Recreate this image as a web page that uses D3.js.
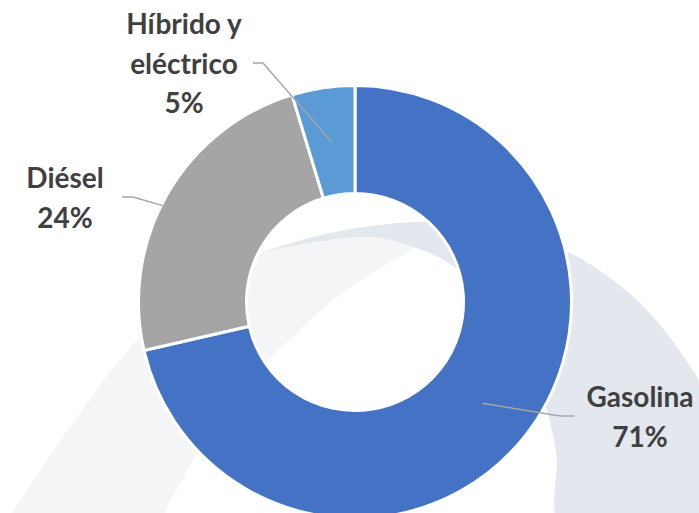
<!DOCTYPE html>
<html>
<head>
<meta charset="utf-8">
<script src="https://cdn.jsdelivr.net/npm/d3@7"></script>
<style>
    html, body { margin: 0; padding: 0; background: #ffffff; }
    svg { display: block; }
</style>
</head>
<body>
<svg id="chart"></svg>
<script>
"use strict";

// Slice categories (label lines) and shares in percent
const categories = ["Gasolina", "Diésel", "Híbrido y eléctrico"];
const labelLines = [["Gasolina"], ["Diésel"], ["Híbrido y", "eléctrico"]];
const shares = [71.4, 23.9, 4.7];
const shareLabels = ["71%", "24%", "5%"];
const sliceColors = ["#4472C4", "#A5A5A5", "#5B9BD5"];

// Label placement: centre x, first baseline, leader start and elbow
const labelX = [640, 65, 184];
const labelY = [407, 188, 34];
const leaderStart = [[574, 416], [122, 197], [253, 63]];
const leaderElbow = [[560, 416], [133, 197], [263, 63]];
const leaderToEdge = [false, true, false];

const width = 699, height = 513;
const cx = 355, cy = 302;
const outerR = 216.5, innerR = 108.5;

const svg = d3.select("#chart")
    .attr("width", width)
    .attr("height", height);

// background swooshes (decoration only)
const lightSwoosh = [[10, 516], [75, 420], [140, 337], [200, 287], [263, 252], [320, 239],
    [373, 235], [412, 247], [380, 268], [333, 300], [300, 330], [268, 360], [230, 405],
    [197, 453], [163, 516]];
const darkSwoosh = [[263, 252], [330, 233], [420, 222], [500, 230], [568, 252], [640, 303],
    [697, 377], [740, 460], [760, 530], [563, 530], [556, 450], [540, 390], [510, 330],
    [470, 280], [440, 258], [410, 246], [373, 237], [315, 242], [263, 252]];

const swooshLine = d3.line().curve(d3.curveCatmullRom.alpha(0.5));
svg.append("path")
    .attr("d", swooshLine(lightSwoosh) + "Z")
    .attr("fill", "#F4F5F7");
svg.append("path")
    .attr("d", swooshLine(darkSwoosh) + "Z")
    .attr("fill", "#E3E7EE");

const pie = d3.pie().sort(null).value((d) => d);
const arcs = pie(shares);
const arc = d3.arc().innerRadius(innerR).outerRadius(outerR);

const g = svg.append("g")
    .attr("transform", `translate(${cx},${cy})`);

g.selectAll("path.slice")
    .data(arcs)
    .enter()
    .append("path")
    .attr("class", "slice")
    .attr("d", arc)
    .attr("fill", (d, i) => sliceColors[i])
    .attr("stroke", "#ffffff")
    .attr("stroke-width", 3);

// leader end: centroid, or where the line towards it meets the outer edge
function leaderEnd(i) {
    const c = arc.centroid(arcs[i]);
    const cAbs = [c[0] + cx, c[1] + cy];
    if (!leaderToEdge[i]) return cAbs;
    const p = leaderElbow[i];
    const r = 215;
    let lo = 0, hi = 1;
    for (let k = 0; k < 40; k++) {
        const t = (lo + hi) / 2;
        const x = p[0] + (cAbs[0] - p[0]) * t - cx;
        const y = p[1] + (cAbs[1] - p[1]) * t - cy;
        if (Math.hypot(x, y) > r) lo = t; else hi = t;
    }
    return [p[0] + (cAbs[0] - p[0]) * lo, p[1] + (cAbs[1] - p[1]) * lo];
}

svg.selectAll("polyline.leader")
    .data(arcs)
    .enter()
    .append("polyline")
    .attr("class", "leader")
    .attr("points", (d, i) => [leaderStart[i], leaderElbow[i], leaderEnd(i)].map((p) => p.join(",")).join(" "))
    .attr("fill", "none")
    .attr("stroke", "#A6A6A6")
    .attr("stroke-width", 1.5);

const labels = svg.selectAll("text.label")
    .data(arcs)
    .enter()
    .append("text")
    .attr("class", "label")
    .attr("text-anchor", "middle")
    .attr("font-family", "Lato, 'Open Sans', sans-serif")
    .attr("font-weight", "bold")
    .attr("font-size", 28)
    .attr("fill", "#404040");

labels.each(function (d, i) {
    const lines = labelLines[i].concat([shareLabels[i]]);
    d3.select(this).selectAll("tspan")
        .data(lines)
        .enter()
        .append("tspan")
        .attr("x", labelX[i])
        .attr("y", (t, j) => labelY[i] + j * 39.5)
        .text((t) => t);
});
</script>
</body>
</html>
